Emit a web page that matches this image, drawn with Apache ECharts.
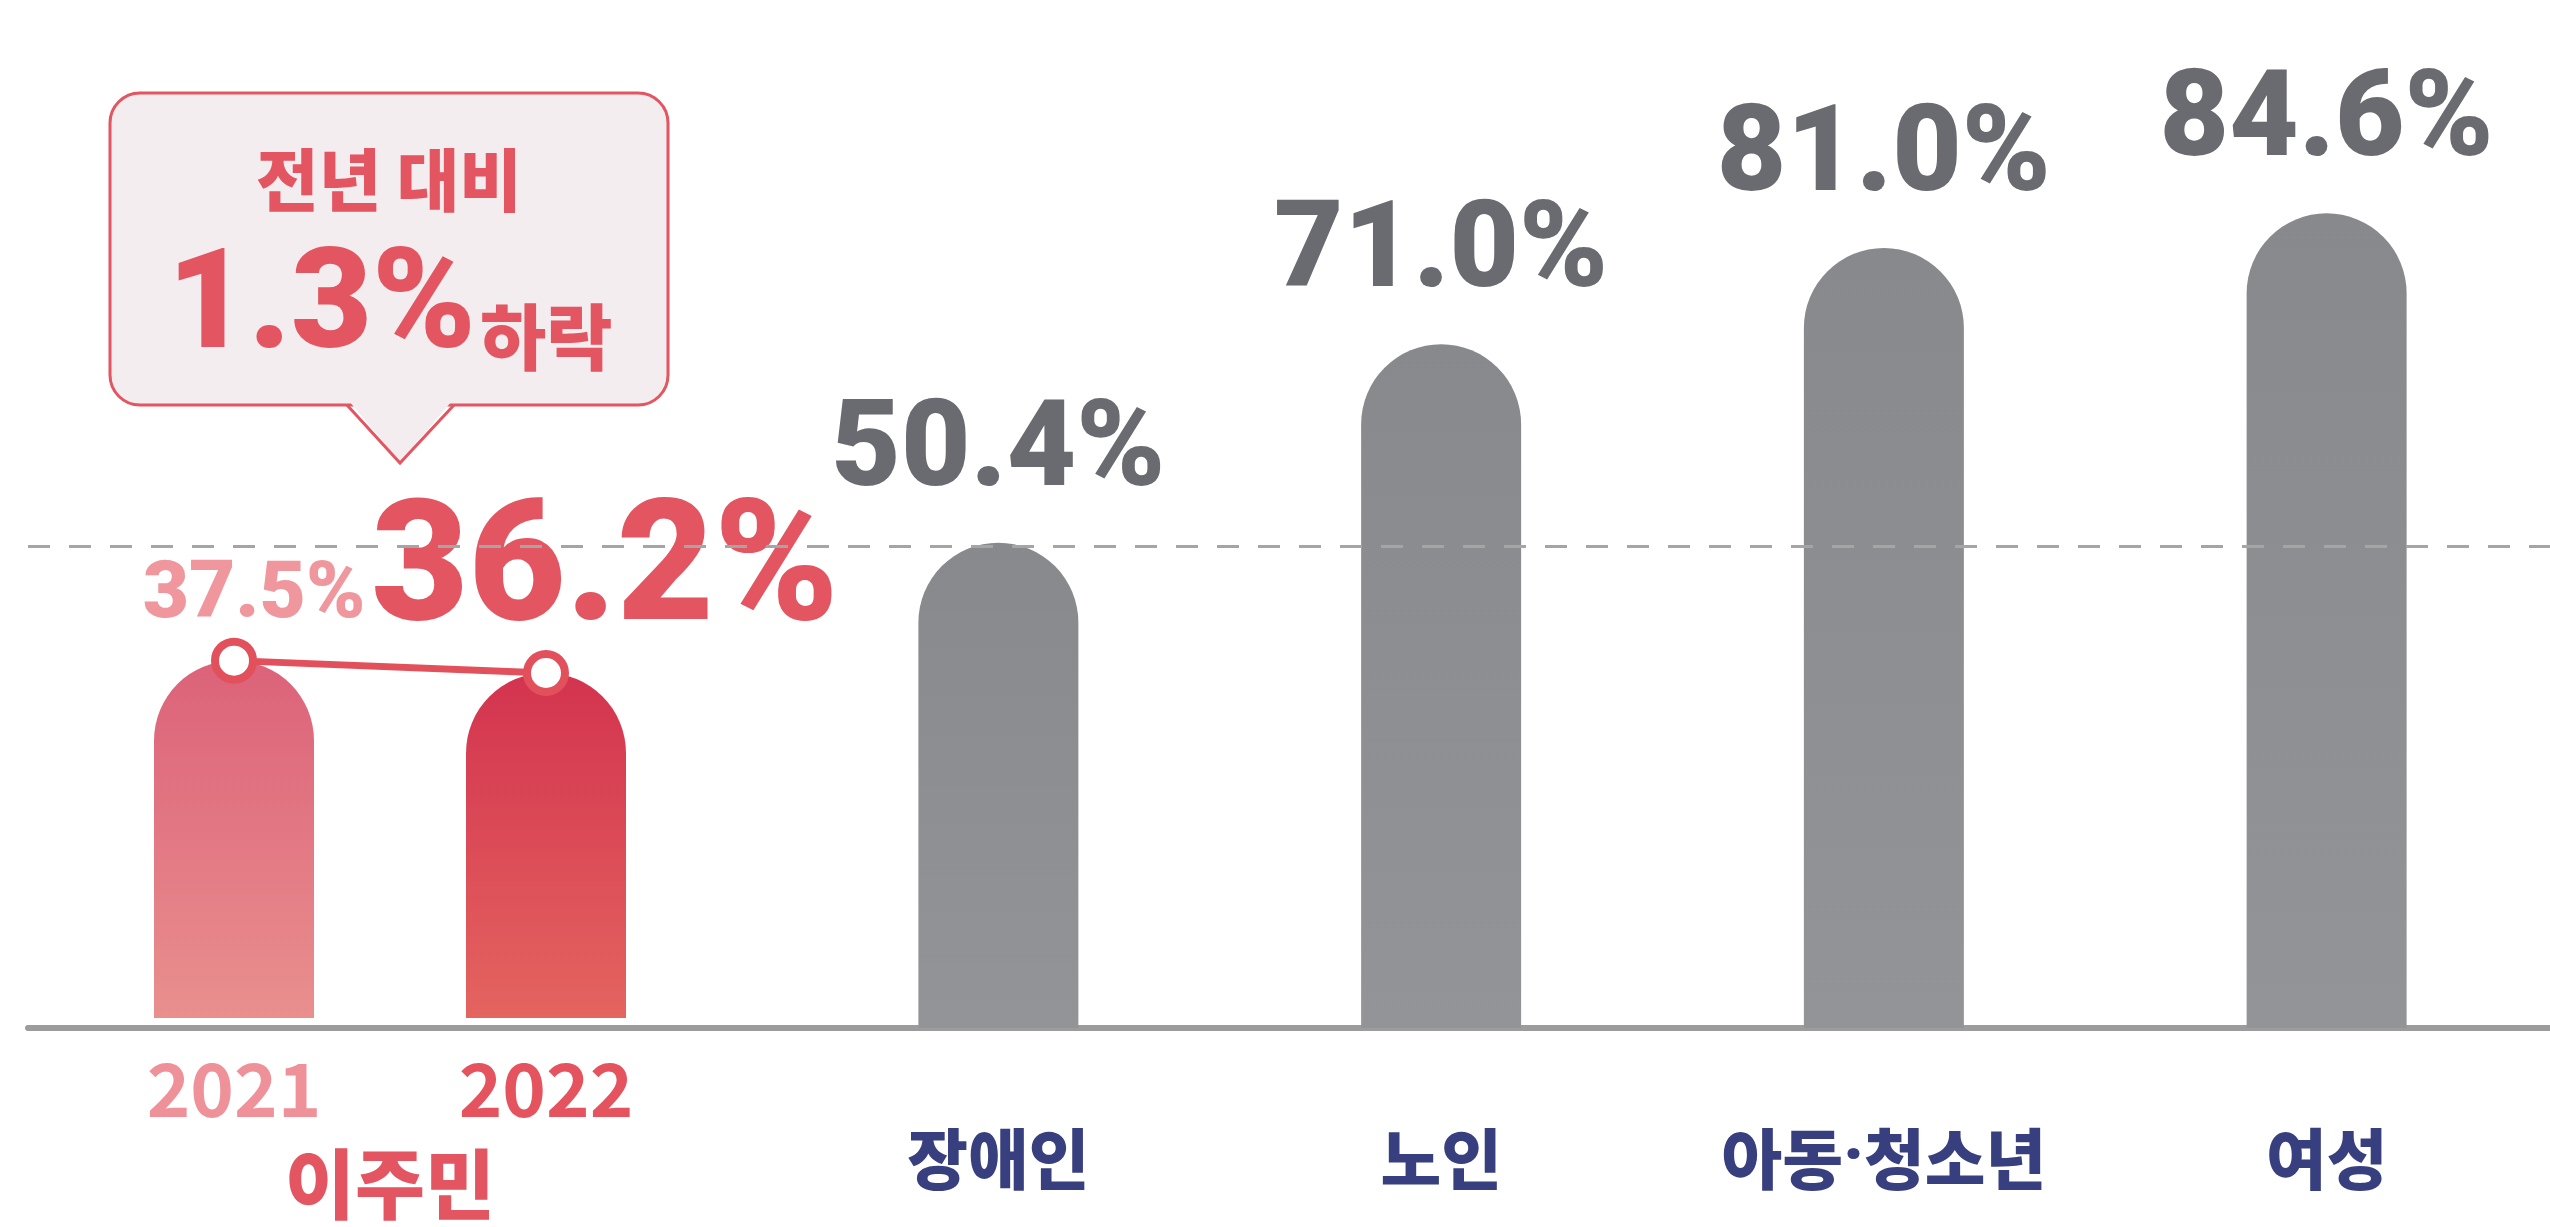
<!DOCTYPE html>
<html>
<head>
<meta charset="utf-8">
<script src="https://cdn.jsdelivr.net/npm/echarts@6/dist/echarts.min.js"></script>
<style>
  html, body { margin: 0; padding: 0; background: #fff; }
  #chart { width: 2550px; height: 1227px; }
</style>
</head>
<body>
<div id="chart"></div>
<script>
// 이주민 (2021 -> 2022)
const migrantYears = ['2021', '2022']
const migrantValues = [37.5, 36.2]
const migrantName = '이주민'

// 비교 집단
const groupNames = ['장애인', '노인', '아동·청소년', '여성']
const groupValues = [50.4, 71.0, 81.0, 84.6]

const referenceLine = 50

const numFont = 'Roboto'
const krFont = '"Noto Sans CJK KR"'
const red = '#e35560'
const boxFill = '#f3edf0'

const chart = echarts.init(document.getElementById('chart'))

const grad = (top, bottom) => new echarts.graphic.LinearGradient(0, 0, 0, 1, [
  { offset: 0, color: top },
  { offset: 1, color: bottom }
])

const pct = p => p.value.toFixed(1) + '%'

// per-year styles
const migrantBarColors = [['#dc6279', '#e98f8e'], ['#d3334f', '#e4645f']]
const migrantLabels = [
  { distance: 24, offset: [20, 0], fontSize: 80, lineHeight: 80, color: '#ef979d' },
  { distance: 12, offset: [59, 0], fontSize: 168, lineHeight: 168, color: red }
]

const drop = (migrantValues[0] - migrantValues[1]).toFixed(1)

const option = {
  animation: false,
  backgroundColor: '#fff',
  grid: [
    { left: 28, right: 0, top: 65, bottom: 199 },
    { left: 78, width: 624, top: 65, bottom: 199 },
    { left: 777, width: 1771, top: 65, bottom: 199 }
  ],
  xAxis: [
    {
      gridIndex: 0, type: 'category', data: [''],
      axisLine: { show: true, lineStyle: { color: '#9c9c9c', width: 6 } },
      axisTick: { show: false }, axisLabel: { show: false }
    },
    {
      gridIndex: 1, type: 'category', data: migrantYears,
      axisLine: { show: false }, axisTick: { show: false },
      axisLabel: {
        interval: 0, margin: 34, fontFamily: krFont, fontWeight: 'bold', fontSize: 74, lineHeight: 74,
        color: (v, i) => (i === 0 ? '#ef9199' : '#e4535e')
      },
      name: migrantName, nameLocation: 'middle', nameGap: 128,
      nameTextStyle: { fontFamily: krFont, fontWeight: 900, fontSize: 76, lineHeight: 76, color: red }
    },
    {
      gridIndex: 2, type: 'category', data: groupNames,
      axisLine: { show: false }, axisTick: { show: false },
      axisLabel: {
        interval: 0, margin: 98, fontFamily: krFont, fontWeight: 900, fontSize: 66, lineHeight: 66, color: '#383f7e',
        formatter: v => v.replace('·', '{d|·}'),
        rich: { d: { fontFamily: numFont, fontWeight: 900, fontSize: 66, lineHeight: 66, color: '#383f7e' } }
      }
    }
  ],
  yAxis: [0, 1, 2].map(i => ({ gridIndex: i, type: 'value', min: 0, max: 100, show: false })),
  series: [
    {
      type: 'line', xAxisIndex: 0, yAxisIndex: 0, data: [], z: 1,
      markLine: {
        silent: true, symbol: 'none', label: { show: false },
        lineStyle: { type: [22, 19], color: '#a5a5a5', width: 3 },
        data: [{ yAxis: referenceLine }]
      }
    },
    {
      type: 'bar', xAxisIndex: 1, yAxisIndex: 1, barWidth: 160, z: 3,
      data: migrantValues.map((v, i) => ({
        value: v,
        itemStyle: { color: grad(migrantBarColors[i][0], migrantBarColors[i][1]), borderRadius: [80, 80, 0, 0] },
        label: Object.assign({ show: true, position: 'top', formatter: pct, fontFamily: numFont, fontWeight: 900 }, migrantLabels[i])
      }))
    },
    {
      type: 'line', xAxisIndex: 1, yAxisIndex: 1, data: migrantValues, z: 5,
      symbol: 'circle', symbolSize: 38,
      itemStyle: { color: '#fff', borderColor: '#e2505c', borderWidth: 8 },
      lineStyle: { color: '#e2505c', width: 7 },
      label: { show: false }
    },
    {
      type: 'bar', xAxisIndex: 2, yAxisIndex: 2, barWidth: 160, z: 3,
      data: groupValues,
      itemStyle: { color: grad('#88898d', '#939498'), borderRadius: [80, 80, 0, 0] },
      label: {
        show: true, position: 'top', distance: 28, formatter: pct,
        fontFamily: numFont, fontWeight: 900, fontSize: 120, lineHeight: 120, color: '#6a6b70'
      }
    }
  ],
  graphic: [
    {
      type: 'rect', z: 10,
      shape: { x: 110, y: 93, width: 558, height: 312, r: 30 },
      style: { fill: boxFill, stroke: red, lineWidth: 3 }
    },
    {
      type: 'polygon', z: 11,
      shape: { points: [[349, 401], [452, 401], [400, 462]] },
      style: { fill: boxFill }
    },
    {
      type: 'polyline', z: 12,
      shape: { points: [[347, 405], [400, 463], [454, 405]] },
      style: { stroke: red, lineWidth: 3, fill: null }
    },
    {
      type: 'text', z: 12, x: 389, y: 180,
      style: { text: '전년 대비', fontFamily: krFont, fontWeight: 900, fontSize: 68, fill: red, align: 'center', verticalAlign: 'middle' }
    },
    {
      type: 'text', z: 12, x: 476, y: 312,
      style: { text: drop + '%', fontFamily: numFont, fontWeight: 900, fontSize: 140, fill: red, align: 'right', verticalAlign: 'middle' }
    },
    {
      type: 'text', z: 12, x: 480, y: 337,
      style: { text: '하락', fontFamily: krFont, fontWeight: 900, fontSize: 72, fill: red, align: 'left', verticalAlign: 'middle' }
    }
  ]
}

chart.setOption(option)
</script>
</body>
</html>
